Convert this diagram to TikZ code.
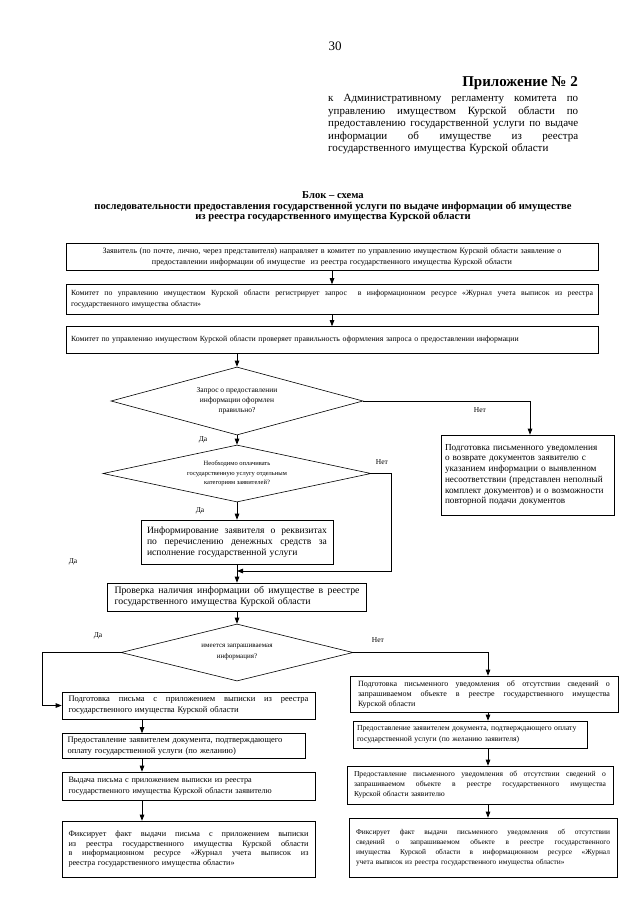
\documentclass[tikz,border=0pt]{standalone}
\usepackage{fontspec}
\setmainfont{Liberation Serif}
\usetikzlibrary{arrows.meta,shapes.geometric}
\def\jw{100pt}
\newcommand\jl[1]{\leavevmode\hbox to \jw{\spaceskip=.25em plus 1fil\relax #1}}
\newcommand\fs[2]{\fontsize{#1}{#2}\selectfont}
\begin{document}
\begin{tikzpicture}[x=1pt,y=-1pt,
  tw/.code={\tikzset{text width=#1}\def\jw{#1}},
  box/.style={draw, line width=0.6pt, inner sep=0pt, align=left},
  dia/.style={draw, diamond, line width=0.6pt, inner sep=0pt, align=center},
  arr/.style={-{Triangle[length=6pt,width=4.5pt]}, line width=0.8pt},
  lbl/.style={inner sep=0pt, font=\fs{7.5}{9}}]
\useasboundingbox (0,0) rectangle (639,905);
\fill[white] (0,0) rectangle (639,905);

% header
\node[inner sep=0pt, font=\fs{13}{15}] (pg) at (335,46) {30};
\node[inner sep=0pt, anchor=east, font=\bfseries\fs{15}{16}] (app) at (578,83) {Приложение № 2};
\node[inner sep=0pt, anchor=north west, tw=250pt, align=left, font=\fs{11}{12.4}] (par) at (328,94.5)
 {\jl{к Административному регламенту комитета по}\\
  \jl{управлению имуществом Курской области по}\\
  \jl{предоставлению государственной услуги по выдаче}\\
  \jl{информации об имуществе из реестра}\\
  государственного имущества Курской области};

\node[inner sep=0pt, align=center, font=\bfseries\fs{10.6}{10.5}] (title) at (333,207)
 {Блок – схема\\
  последовательности предоставления государственной услуги по выдаче информации об имуществе\\
  из реестра государственного имущества Курской области};

% top boxes
\node[box, minimum width=532, minimum height=27, text width=522, align=center, font=\fs{8.1}{11}] (b1) at (332,256.5)
 {Заявитель (по почте, лично, через представителя) направляет в комитет по управлению имуществом Курской области заявление о\\
  предоставлении информации об имуществе \ из реестра государственного имущества Курской области};
\node[box, minimum width=532, minimum height=30, tw=522pt, font=\fs{7.8}{11}] (b2) at (332,299.5)
 {\jl{Комитет по управлению имуществом Курской области регистрирует запрос \ в информационном ресурсе «Журнал учета выписок из реестра}\\
  государственного имущества области»};
\node[box, minimum width=532, minimum height=27, text width=522, font=\fs{7.8}{11}] (b3) at (332,340)
 {Комитет по управлению имуществом Курской области проверяет правильность оформления запроса о предоставлении информации};

% decision 1
\node[dia, minimum width=252, minimum height=68, aspect=3.7, font=\fs{7.5}{10}] (d1) at (237,401)
 {Запрос о предоставлении\\информации оформлен\\правильно?};
\node[box, minimum width=173, minimum height=80, text width=165, font=\fs{9.2}{10.7}] (rb) at (527.5,475)
 {Подготовка письменного уведомления\\
  о возврате документов заявителю с\\
  указанием информации о выявленном\\
  несоответствии (представлен неполный\\
  комплект документов) и о возможности\\
  повторной подачи документов};
\node[lbl] (net1) at (480,410) {Нет};
\node[lbl] (da1) at (203,440) {Да};

% decision 2
\node[dia, minimum width=268, minimum height=57, aspect=4.7, font=\fs{6.5}{9.5}] (d2) at (237,473.5)
 {Необходимо оплачивать\\государственную услугу отдельным\\категориям заявителей?};
\node[lbl] (net2) at (382,462) {Нет};
\node[lbl] (da2) at (200,511) {Да};
\node[lbl] (da3) at (73,562) {Да};

\node[box, minimum width=192, minimum height=44, tw=180pt, font=\fs{9.6}{11}] (info) at (237,542)
 {\jl{Информирование заявителя о реквизитах}\\
  \jl{по перечислению денежных средств за}\\
  исполнение государственной услуги};
\coordinate (j1) at (237,571);

\node[box, minimum width=259, minimum height=28, tw=245pt, font=\fs{9.8}{11}] (prov) at (237,597)
 {\jl{Проверка наличия информации об имуществе в реестре}\\
  государственного имущества Курской области};

% decision 3
\node[dia, minimum width=232, minimum height=57, aspect=4.07, font=\fs{7}{11}] (d3) at (237,652.5)
 {имеется запрашиваемая\\информация?};
\node[lbl] (da4) at (98,636) {Да};
\node[lbl] (net3) at (378,640) {Нет};

% left column
\coordinate (lax) at (142,0);
\node[box, minimum width=253, minimum height=27, tw=240pt, font=\fs{8.5}{11}] (L1) at (188.5,705.5)
 {\jl{Подготовка письма с приложением выписки из реестра}\\
  государственного имущества Курской области};
\node[box, minimum width=243, minimum height=25, text width=232, font=\fs{8.5}{10.5}] (L2) at (183.5,746)
 {Предоставление заявителем документа, подтверждающего\\
  оплату государственной услуги (по желанию)};
\node[box, minimum width=253, minimum height=28, text width=240, font=\fs{8.2}{10.5}] (L3) at (188.5,786)
 {Выдача письма с приложением выписки из реестра\\
  государственного имущества Курской области заявителю};
\node[box, minimum width=253, minimum height=56, tw=240pt, font=\fs{8.2}{9.8}] (L4) at (188.5,849)
 {\jl{Фиксирует факт выдачи письма с приложением выписки}\\
  \jl{из реестра государственного имущества Курской области}\\
  \jl{в информационном ресурсе «Журнал учета выписок из}\\
  реестра государственного имущества области»};

% right column
\coordinate (rax) at (488,0);
\node[box, minimum width=268, minimum height=36, tw=252pt, font=\fs{8}{10}] (R1) at (484,694)
 {\jl{Подготовка письменного уведомления об отсутствии сведений о}\\
  \jl{запрашиваемом объекте в реестре государственного имущества}\\
  Курской области};
\node[box, minimum width=234, minimum height=27, text width=226, font=\fs{7.7}{10.5}] (R2) at (470,734.5)
 {Предоставление заявителем документа, подтверждающего оплату\\
  государственной услуги (по желанию заявителя)};
\node[box, minimum width=266, minimum height=38, tw=252pt, font=\fs{7.6}{10}] (R3) at (480,785)
 {\jl{Предоставление письменного уведомления об отсутствии сведений о}\\
  \jl{запрашиваемом объекте в реестре государственного имущества}\\
  Курской области заявителю};
\node[box, minimum width=268, minimum height=59, tw=254pt, font=\fs{7.4}{9.8}] (R4) at (483,847.5)
 {\jl{Фиксирует факт выдачи письменного уведомления об отсутствии}\\
  \jl{сведений о запрашиваемом объекте в реестре государственного}\\
  \jl{имущества Курской области в информационном ресурсе «Журнал}\\
  учета выписок из реестра государственного имущества области»};

% connectors
\draw[arr] (b1.south) -- (b1.south |- b2.north);
\draw[arr] (b2.south) -- (b2.south |- b3.north);
\draw[arr] (d1.north |- b3.south) -- (d1.north);
\draw[arr] (d1.east) -| ([xshift=2.5pt]rb.north);
\draw[arr] (d1.south) -- (d2.north);
\draw[arr] (d2.south) -- (info.north);
\draw[arr] (d2.east) -- ++(20,0) |- (j1);
\draw[arr] (info.south) -- (prov.north);
\draw[arr] (prov.south) -- (d3.north);
\draw[arr] (d3.west) -- ++(-78,0) |- (L1.west);
\draw[arr] (d3.east) -| (rax |- R1.north);
\draw[arr] (L1.south -| lax) -- (L2.north -| lax);
\draw[arr] (L2.south -| lax) -- (L3.north -| lax);
\draw[arr] (L3.south -| lax) -- (L4.north -| lax);
\draw[arr] (R1.south -| rax) -- (R2.north -| rax);
\draw[arr] (R2.south -| rax) -- (R3.north -| rax);
\draw[arr] (R3.south -| rax) -- (R4.north -| rax);
\end{tikzpicture}
\end{document}
